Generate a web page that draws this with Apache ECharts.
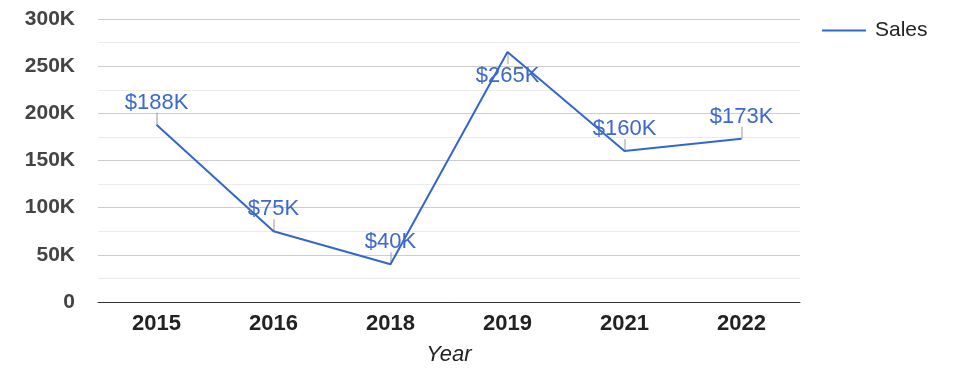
<!DOCTYPE html>
<html>
<head>
<meta charset="utf-8">
<script src="https://cdn.jsdelivr.net/npm/echarts@6/dist/echarts.min.js"></script>
<style>
  html, body { margin: 0; padding: 0; background: #fff; }
  #chart { width: 975px; height: 378px; }
</style>
</head>
<body>
<div id="chart"></div>
<script>
// data
const years = ['2015', '2016', '2018', '2019', '2021', '2022'];
const sales = [188000, 75000, 40000, 265000, 160000, 173000];
const yTicks = [0, 50000, 100000, 150000, 200000, 250000, 300000];

const FONT = 'Arial, "Liberation Sans", sans-serif';
const BLUE = '#3366cc';

const chart = echarts.init(document.getElementById('chart'));

// labels near the top of the axis go under the point
const yMax = yTicks[yTicks.length - 1];
const below = sales.map((v) => v > yMax * 0.8);

const kFmt = (v) => (v === 0 ? '0' : v / 1000 + 'K');

const option = {
  animation: false,
  grid: { left: 98, right: 175, top: 19, bottom: 76 },
  legend: {
    data: ['Sales'],
    left: 817,
    top: 15,
    icon: 'rect',
    itemWidth: 44,
    itemHeight: 2,
    itemGap: 10,
    textStyle: { fontFamily: FONT, fontSize: 21, color: '#222', padding: [0, 0, 0, 4] },
  },
  xAxis: {
    type: 'category',
    data: years,
    name: 'Year',
    nameLocation: 'middle',
    nameGap: 42,
    nameTextStyle: { fontFamily: FONT, fontSize: 22, fontStyle: 'italic', color: '#222' },
    axisTick: { show: false },
    axisLine: { lineStyle: { color: '#333', width: 1 } },
    axisLabel: { fontFamily: FONT, fontSize: 22, fontWeight: 'bold', color: '#222', margin: 11 },
  },
  yAxis: {
    type: 'value',
    min: yTicks[0],
    max: yMax,
    interval: yTicks[1] - yTicks[0],
    axisLine: { show: false },
    axisTick: { show: false },
    axisLabel: {
      fontFamily: FONT, fontSize: 21, fontWeight: 'bold', color: '#444', margin: 23,
      formatter: kFmt,
    },
    splitLine: { lineStyle: { color: '#cccccc', width: 1 } },
    minorTick: { show: false, splitNumber: 2 },
    minorSplitLine: { show: true, lineStyle: { color: '#ebebeb', width: 1 } },
  },
  series: [
    {
      name: 'stems',
      type: 'custom',
      silent: true,
      z: 1,
      data: sales.map((v, i) => [i, v, below[i] ? -1 : 1]),
      renderItem: (params, api) => {
        const p = api.coord([api.value(0), api.value(1)]);
        const dir = api.value(2);
        return {
          type: 'line',
          shape: { x1: p[0] + 0.5, y1: p[1], x2: p[0] + 0.5, y2: p[1] - dir * 12 },
          style: { stroke: '#999', lineWidth: 1 },
        };
      },
    },
    {
      name: 'Sales',
      type: 'line',
      z: 2,
      symbol: 'circle',
      symbolSize: 0,
      showSymbol: true,
      lineStyle: { color: BLUE, width: 2 },
      itemStyle: { color: BLUE },
      data: sales.map((v, i) => ({
        value: v,
        label: { position: below[i] ? 'bottom' : 'top', distance: below[i] ? 13 : 11 },
      })),
      label: {
        show: true,
        fontFamily: FONT,
        fontSize: 22,
        color: '#3d68cc',
        formatter: (p) => '$' + Math.round(p.value / 1000) + 'K',
      },
    },
  ],
};

chart.setOption(option);
</script>
</body>
</html>
